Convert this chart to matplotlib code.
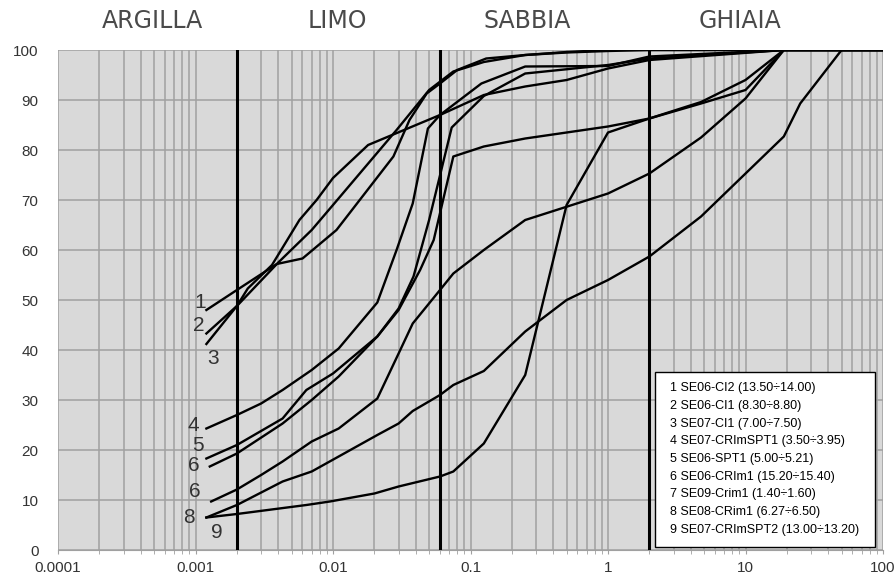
import matplotlib
matplotlib.use('Agg')
import matplotlib.pyplot as plt
from matplotlib.patches import Rectangle
from matplotlib.ticker import LogLocator, NullFormatter

# grain size (mm) and percent passing
d1 = [0.0012, 0.002, 0.0039, 0.006, 0.0106, 0.0275, 0.036, 0.048, 0.06, 0.08, 0.13, 0.25, 0.5, 1, 2, 100]
p1 = [48, 52, 57.2, 58.3, 64, 78.7, 86, 91.3, 93.3, 96, 98.3, 99, 99.5, 99.8, 100, 100]

d2 = [0.0012, 0.002, 0.004, 0.007, 0.01, 0.029, 0.05, 0.075, 0.125, 0.25, 0.5, 1, 100]
p2 = [43.3, 48.8, 57.5, 64, 69, 84, 92, 95.7, 97.6, 99, 99.6, 100, 100]

d3 = [0.0012, 0.002, 0.0024, 0.0036, 0.0057, 0.0076, 0.01, 0.018, 0.06, 0.125, 0.25, 0.5, 1, 2, 19, 100]
p3 = [41.2, 48.8, 52.3, 57, 66, 70, 74.4, 81, 87, 91, 92.7, 94, 96.3, 98, 100, 100]

d4 = [0.0012, 0.002, 0.003, 0.0043, 0.007, 0.011, 0.021, 0.029, 0.038, 0.049, 0.06, 0.12, 0.25, 1, 2, 19, 100]
p4 = [24.3, 27, 29.3, 32, 36, 40.3, 49.5, 60, 69.3, 84.3, 87, 93.3, 96.7, 96.8, 98.7, 100, 100]

d5 = [0.0012, 0.002, 0.0043, 0.0064, 0.01, 0.021, 0.03, 0.0385, 0.05, 0.073, 0.125, 0.25, 1, 2, 19, 100]
p5 = [18.3, 21, 26.3, 32, 35.3, 42.7, 48.3, 54.7, 66, 84.5, 90.8, 95.3, 97, 98.3, 100, 100]

d6 = [0.00127, 0.002, 0.0043, 0.007, 0.011, 0.021, 0.03, 0.043, 0.054, 0.075, 0.125, 0.25, 1, 2, 4.75, 10, 19, 100]
p6 = [16.7, 19.3, 25.3, 30, 34.7, 42.7, 48, 56, 62, 78.7, 80.7, 82.3, 84.7, 86.3, 89.3, 92, 100, 100]

d7 = [0.0013, 0.002, 0.003, 0.0043, 0.007, 0.011, 0.021, 0.03, 0.038, 0.06, 0.075, 0.125, 0.25, 1, 2, 4.75, 10, 19, 100]
p7 = [9.7, 12.1, 15, 17.7, 21.7, 24.3, 30.3, 39.3, 45.3, 52, 55.3, 60, 66, 71.3, 75.3, 82.5, 90.3, 100, 100]

d8 = [0.0012, 0.002, 0.0043, 0.007, 0.011, 0.021, 0.03, 0.038, 0.06, 0.075, 0.125, 0.25, 0.5, 1, 2, 4.75, 9.5, 19, 25, 50, 100]
p8 = [6.5, 9, 13.7, 15.7, 18.7, 23, 25.3, 27.8, 31, 33, 35.8, 43.7, 50, 54, 58.7, 66.7, 74.7, 82.7, 89.3, 100, 100]

d9 = [0.0012, 0.002, 0.0064, 0.0095, 0.02, 0.03, 0.06, 0.075, 0.125, 0.25, 0.5, 1, 2, 4.75, 10, 19, 100]
p9 = [6.5, 7.2, 9, 9.7, 11.3, 12.7, 14.7, 15.7, 21.3, 35, 69, 83.5, 86.3, 89.6, 94, 100, 100]

curves = [(d1, p1), (d2, p2), (d3, p3), (d4, p4), (d5, p5),
          (d6, p6), (d7, p7), (d8, p8), (d9, p9)]
curve_tags = ['1', '2', '3', '4', '5', '6', '6', '8', '9']
tag_offsets = [(-6, 7), (-8, 8), (7, -14), (-13, 3), (-8, 13),
               (-16, 1), (-16, 10), (-17, 0), (10, -15)]

legend_lines = [
    '1 SE06-CI2 (13.50\u00f714.00)',
    '2 SE06-CI1 (8.30\u00f78.80)',
    '3 SE07-CI1 (7.00\u00f77.50)',
    '4 SE07-CRImSPT1 (3.50\u00f73.95)',
    '5 SE06-SPT1 (5.00\u00f75.21)',
    '6 SE06-CRIm1 (15.20\u00f715.40)',
    '7 SE09-Crim1 (1.40\u00f71.60)',
    '8 SE08-CRim1 (6.27\u00f76.50)',
    '9 SE07-CRImSPT2 (13.00\u00f713.20)',
]

limits = [0.002, 0.06, 2]
classes = ['ARGILLA', 'LIMO', 'SABBIA', 'GHIAIA']
class_x = [0.00049, 0.0107, 0.258, 9.1]

xtick_vals = [0.0001, 0.001, 0.01, 0.1, 1, 10, 100]
xtick_labels = ['0.0001', '0.001', '0.01', '0.1', '1', '10', '100']

plt.rcParams['font.family'] = ['Liberation Sans', 'DejaVu Sans']

fig = plt.figure(figsize=(8.96, 5.85), dpi=100)
ax = fig.add_axes([58 / 896, 35 / 585, 825 / 896, 500 / 585])
ax.set_facecolor('#d9d9d9')
ax.set_xscale('log')
ax.set_xlim(1e-4, 100)
ax.set_ylim(0, 100)

ax.set_xticks(xtick_vals, xtick_labels)
ax.xaxis.set_minor_locator(LogLocator(base=10, subs=range(2, 10), numticks=20))
ax.xaxis.set_minor_formatter(NullFormatter())
ax.set_yticks(range(0, 101, 10))

gridc = '#a0a0a0'
ax.grid(True, which='both', axis='x', color=gridc, lw=1.1)
ax.grid(True, which='major', axis='y', color=gridc, lw=1.1)
ax.set_axisbelow(True)
for s in ['top', 'right', 'left']:
    ax.spines[s].set_visible(False)
ax.spines['bottom'].set_color(gridc)

ax.tick_params(axis='x', which='both', length=3, color=gridc, labelsize=11,
               pad=5, labelcolor='#333333')
ax.tick_params(axis='y', length=0, pad=14, labelsize=11, labelcolor='#333333')

for x in limits:
    ax.axvline(x, color='black', lw=2.2, zorder=3)

for (d, p), tag, off in zip(curves, curve_tags, tag_offsets):
    ax.plot(d, p, color='black', lw=1.7, zorder=4)
    ax.annotate(tag, xy=(d[0], p[0]), xytext=off, textcoords='offset pixels',
                ha='center', va='center', fontsize=15, color='#333333')

for name, x in zip(classes, class_x):
    ax.text(x, 1.058, name, transform=ax.get_xaxis_transform(), ha='center',
            va='center', fontsize=17, color='#4a4a4a', family='DejaVu Sans')

# legend box
bx0, bx1 = (655 - 58) / 825, (875 - 58) / 825
by0, by1 = (550 - 547) / 500, (550 - 372) / 500
ax.add_patch(Rectangle((bx0, by0), bx1 - bx0, by1 - by0, transform=ax.transAxes,
                       facecolor='white', edgecolor='black', lw=1.0, zorder=6))
for i, line in enumerate(legend_lines):
    ypx = 388.3 + 17.7 * i
    ax.text((670 - 58) / 825, (550 - ypx) / 500, line, transform=ax.transAxes,
            ha='left', va='center', fontsize=9, color='black', zorder=7)

fig.savefig('out.png', dpi=100)
